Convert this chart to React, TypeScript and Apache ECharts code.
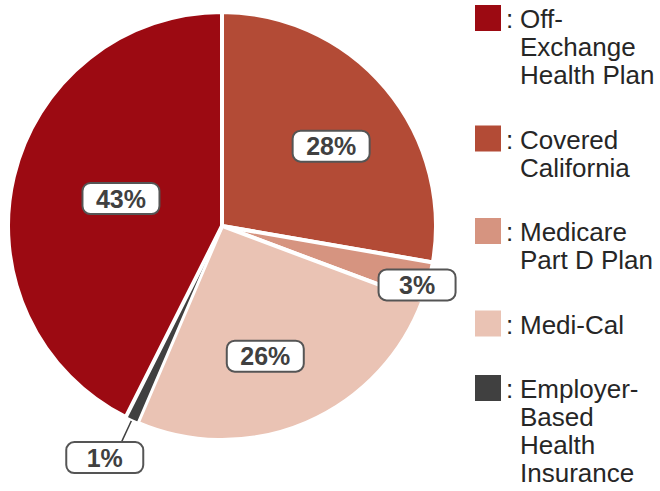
import React, { useEffect, useRef } from 'react';
import * as echarts from 'echarts';

// Slices in clockwise order starting at 12 o'clock
const sliceNames = [
  'Covered\nCalifornia',
  'Medicare\nPart D Plan',
  'Medi-Cal',
  'Employer-\nBased\nHealth\nInsurance',
  'Off-\nExchange\nHealth Plan',
];
const sliceValues = [28, 3, 26, 1, 43];
const sliceColors = ['#b34b36', '#d69480', '#eac3b4', '#404040', '#9c0a12'];

// Legend order (top to bottom)
const legendOrder = [
  'Off-\nExchange\nHealth Plan',
  'Covered\nCalifornia',
  'Medicare\nPart D Plan',
  'Medi-Cal',
  'Employer-\nBased\nHealth\nInsurance',
];

// label nudges (dx, dy) by slice index
const labelNudges: number[][] = [
  [25, -9],
  [-16.5, 3],
  [0, 29],
  [-11, 14],
  [6, -2],
];

const FONT = '"Liberation Sans", Arial, sans-serif';
const LINE_H = 28;
const LEGEND_LEFT = 475;
const LEGEND_TOP = 5;
const LEGEND_GAP = 36.5;
const ICON = 26;

export default function App() {
  const ref = useRef<HTMLDivElement>(null);
  useEffect(() => {
    if (!ref.current) return;
    const chart = echarts.init(ref.current, null, { renderer: 'svg' });
    const data = sliceNames.map((name, i) => {
      const item: any = { name, value: sliceValues[i], itemStyle: { color: sliceColors[i] } };
      if (i === 1) {
        item.label = { position: 'outside' };
        item.labelLine = { show: false, length: 0, length2: 0 };
      }
      if (i === 3) {
        item.itemStyle.borderWidth = 2;
        item.label = { position: 'outside' };
        item.labelLine = { show: true, length: 26, length2: 0, lineStyle: { color: '#404040', width: 1.5 } };
      }
      return item;
    });

    // one legend block per entry so that each icon sits next to the first text line
    const legends: any[] = [];
    let y = LEGEND_TOP;
    legendOrder.forEach((name) => {
      const lines = name.split('\n').length;
      const h = lines * LINE_H;
      legends.push({
        orient: 'vertical',
        left: LEGEND_LEFT,
        top: y,
        padding: 0,
        itemGap: 0,
        itemWidth: ICON,
        itemHeight: h,
        selectedMode: false,
        itemStyle: { borderWidth: 0 },
        data: [
          {
            name,
            icon: `path://M0 0L${ICON} 0L${ICON} ${ICON}L0 ${ICON}Z M0 ${h}L${ICON} ${h}Z`,
          },
        ],
        formatter: (nm: string) =>
          nm
            .split('\n')
            .map((ln, i) => `{c|${i === 0 ? ':' : ' '}}{t|${ln}}`)
            .join('\n'),
        textStyle: {
          color: '#262626',
          fontSize: 26,
          fontFamily: FONT,
          lineHeight: LINE_H,
          rich: {
            c: { width: 14, fontSize: 26, fontFamily: FONT, color: '#262626', lineHeight: LINE_H },
            t: { fontSize: 26, fontFamily: FONT, color: '#262626', lineHeight: LINE_H },
          },
        },
      });
      y += h + LEGEND_GAP;
    });

    chart.setOption({
      animation: false,
      backgroundColor: '#ffffff',
      legend: legends,
      series: [
        {
          type: 'pie',
          center: [222, 226],
          radius: [0, 214],
          startAngle: 90,
          clockwise: true,
          avoidLabelOverlap: false,
          emphasis: { disabled: true },
          itemStyle: { borderColor: '#ffffff', borderWidth: 4 },
          label: {
            show: true,
            position: 'inside',
            formatter: '{c}%',
            color: '#404040',
            fontSize: 25,
            fontWeight: 'bold',
            fontFamily: FONT,
            backgroundColor: '#ffffff',
            borderColor: '#555555',
            borderWidth: 2,
            borderRadius: 7,
            width: 75,
            height: 29,
            lineHeight: 29,
            align: 'center',
            verticalAlign: 'middle',
          },
          labelLine: { show: false },
          labelLayout: (params: any) => {
            const n = labelNudges[params.dataIndex] || [0, 0];
            return { dx: n[0], dy: n[1], align: 'center', verticalAlign: 'middle' };
          },
          data,
        },
      ],
    });
    return () => chart.dispose();
  }, []);
  return (
    <div
      ref={ref}
      style={{ position: 'fixed', left: 0, top: 0, width: 660, height: 491, background: '#fff' }}
    />
  );
}
